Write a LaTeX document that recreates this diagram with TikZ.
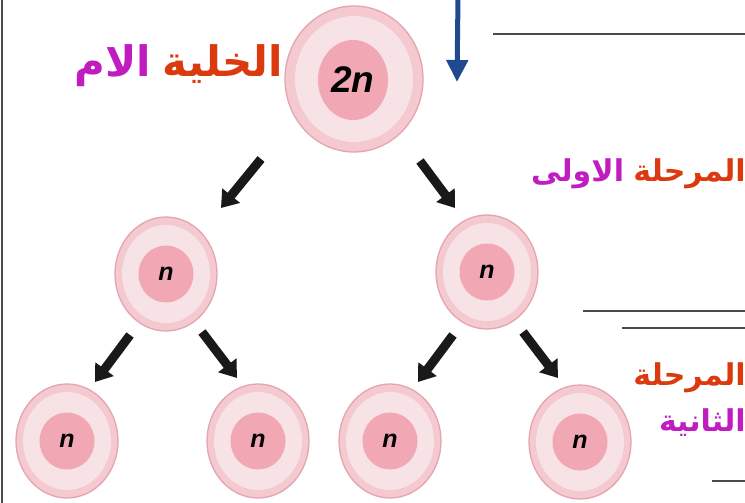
\documentclass[tikz,border=0pt]{standalone}
\usepackage{fontspec}
\setsansfont{Liberation Sans}
\newfontfamily\arabicfont[Script=Arabic]{DejaVu Sans}
\TeXXeTstate=1
\usetikzlibrary{arrows.meta,shapes.geometric}

\definecolor{cellring}{HTML}{F4C9D0}
\definecolor{celledge}{HTML}{E4A5B1}
\definecolor{cellpale}{HTML}{F7E2E5}
\definecolor{nucpink}{HTML}{F2A7B5}
\definecolor{labred}{HTML}{DA3A0E}
\definecolor{labmag}{HTML}{C01CC0}
\definecolor{navyarrow}{HTML}{1F4A90}
\definecolor{ruleline}{HTML}{4A4A4A}

\tikzset{
  cellout/.style={ellipse, fill=cellring, draw=celledge, line width=1.3pt, inner sep=0pt},
  cellmid/.style={ellipse, fill=cellpale, inner sep=0pt},
  nucleus/.style={ellipse, fill=nucpink, inner sep=0pt, text=black,
    font=\sffamily\bfseries\itshape\fontsize{25}{25}\selectfont},
  divarrow/.style={line width=9pt, color=black!90, -{Triangle[width=22pt,length=16pt]}},
  arlabel/.style={inner sep=0pt, font=\arabicfont\bfseries\fontsize{#1}{#1}\selectfont},
  rule/.style={draw=ruleline, line width=1.6pt},
}

\begin{document}
\begin{tikzpicture}[x=1pt, y=-1pt]
\useasboundingbox (0,0) rectangle (745,503);
\fill[white] (0,0) rectangle (745,503);

% left frame edge
\draw[ruleline, line width=2pt] (2,0) -- (2,503);

% answer rules on the right
\coordinate (r1a) at (493,34);  \coordinate (r1b) at (745,34);
\coordinate (r2a) at (583,311); \coordinate (r2b) at (745,311);
\coordinate (r3a) at (622,328); \coordinate (r3b) at (745,328);
\coordinate (r4a) at (712,481); \coordinate (r4b) at (745,481);
\draw[rule] (r1a) -- (r1b);
\draw[rule] (r2a) -- (r2b);
\draw[rule] (r3a) -- (r3b);
\draw[rule] (r4a) -- (r4b);

% mother cell (2n)
\node[cellout, minimum width=138pt, minimum height=146pt] (mom) at (354,79) {};
\node[cellmid, minimum width=118pt, minimum height=126pt] (momin) at (354,79) {};
\node[nucleus, minimum width=70pt, minimum height=80pt,
      font=\sffamily\bfseries\itshape\fontsize{37}{37}\selectfont] (momnuc) at (353,80) {2n};

% daughter cells
\foreach \nm/\cx/\cy in {da/166/274, db/487/272,
                         ga/67/441, gb/258/441, gc/390/441, gd/580/442}{
  \node[cellout, minimum width=102pt, minimum height=114pt] (\nm) at (\cx,\cy) {};
  \node[cellmid, minimum width=88pt, minimum height=98pt] (\nm in) at (\cx,\cy) {};
  \node[nucleus, minimum width=55pt, minimum height=57pt] (\nm nuc) at (\cx,\cy) {n};
}

% first division arrows
\coordinate (a1s) at (261,159); \coordinate (a1e) at (221,208);
\coordinate (a2s) at (420,161); \coordinate (a2e) at (455,208);
\draw[divarrow] (a1s) -- (a1e);
\draw[divarrow] (a2s) -- (a2e);

% second division arrows
\coordinate (b1s) at (130,335); \coordinate (b1e) at (95,382);
\coordinate (b2s) at (202,332); \coordinate (b2e) at (237,378);
\coordinate (b3s) at (453,335); \coordinate (b3e) at (418,382);
\coordinate (b4s) at (523,332); \coordinate (b4e) at (558,378);
\draw[divarrow] (b1s) -- (b1e);
\draw[divarrow] (b2s) -- (b2e);
\draw[divarrow] (b3s) -- (b3e);
\draw[divarrow] (b4s) -- (b4e);

% blue pointer
\coordinate (ps) at (458,-2); \coordinate (pe) at (457,82);
\draw[navyarrow, line width=5pt, -{Triangle[width=21pt,length=22pt]}] (ps) -- (pe);

% labels
\node[arlabel=42, anchor=base east, text=labred] (momR) at (283,77) {\beginR الخلية\endR};
\node[arlabel=42, anchor=base east, text=labmag] (momM) at ([xshift=-11pt]momR.base west) {\beginR الام\endR};

\node[arlabel=30, anchor=base east, text=labred] (st1R) at (746,181) {\beginR المرحلة\endR};
\node[arlabel=30, anchor=base east, text=labmag] (st1M) at ([xshift=-9pt]st1R.base west) {\beginR الاولى\endR};

\node[arlabel=30, anchor=base east, text=labred] (st2R) at (746,385) {\beginR المرحلة\endR};
\node[arlabel=30, anchor=base east, text=labmag] (st2M) at (746,431) {\beginR الثانية\endR};
\end{tikzpicture}
\end{document}
